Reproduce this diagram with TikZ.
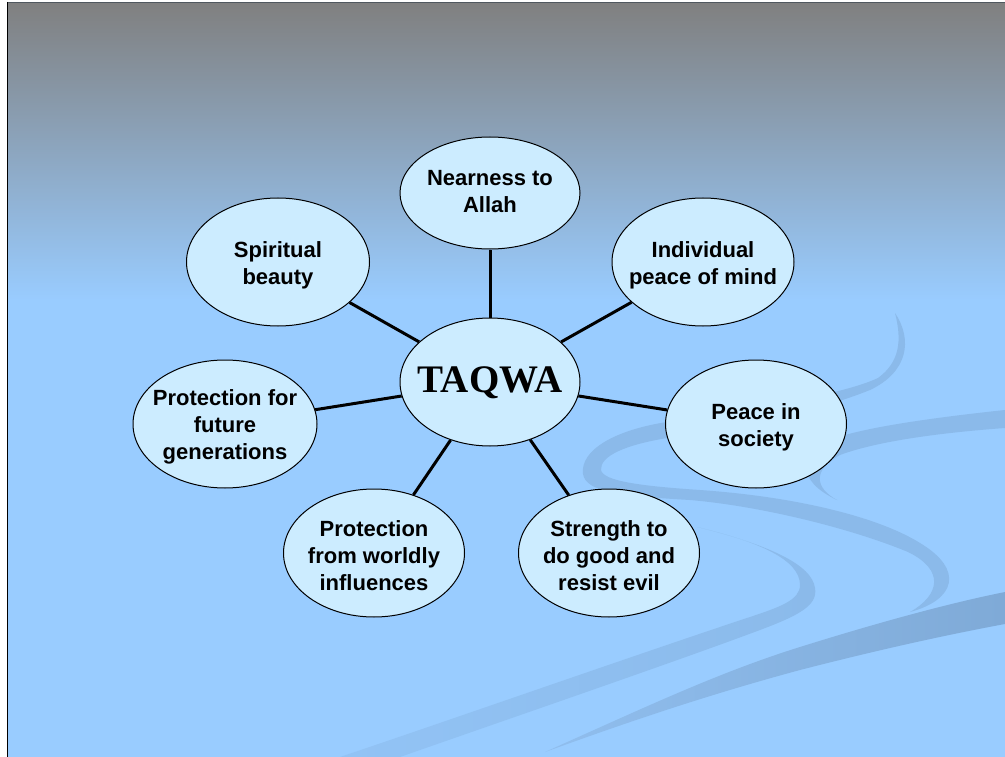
\documentclass[tikz,border=0pt]{standalone}
\usepackage{fontspec}
\setmainfont{Liberation Sans}
\newfontfamily\serifb{Liberation Serif}
\usetikzlibrary{shapes.geometric}
\pgfdeclarelayer{bg}
\pgfdeclarelayer{lines}
\pgfsetlayers{bg,lines,main}
\definecolor{slidegray}{HTML}{808080}
\definecolor{slideblue}{HTML}{99CCFF}
\definecolor{bubble}{HTML}{CCECFF}
\definecolor{swirlA}{HTML}{7FAAD7}
\definecolor{swirlAl}{HTML}{90BEEE}
\definecolor{swirlB}{HTML}{8BBAEA}
\definecolor{swirlC}{HTML}{92C3F5}
\definecolor{topline}{HTML}{50585F}
\begin{document}
\begin{tikzpicture}[x=1pt,y=1pt,
  bub/.style={ellipse, draw=black, line width=1pt, fill=bubble, inner sep=0pt,
    minimum width=181pt, minimum height=128pt},
  lbl/.style={font=\fontsize{22}{27}\selectfont\bfseries, align=center, text=black, inner sep=0pt},
  title/.style={font=\serifb\fontsize{39}{46}\selectfont\bfseries, text=black, inner sep=0pt},
  link/.style={line width=3pt, draw=black}]
\useasboundingbox (0,0) rectangle (1005,-757);
\begin{pgfonlayer}{bg}
  \fill[white] (0,0) rectangle (1005,-757);
  \shade[top color=slidegray, bottom color=slideblue] (7,-3) rectangle (1005,-300);
  \fill[slideblue] (7,-299.5) rectangle (1005,-757);
  % swirl A (darkest, lower right)
  \shade[left color=swirlAl, right color=swirlA]
    (545,-752) .. controls (650,-705) and (720,-672) .. (800,-647)
    .. controls (880,-622) and (950,-603) .. (1005,-592) -- (1005,-624)
    .. controls (940,-636) and (870,-652) .. (800,-670)
    .. controls (700,-697) and (620,-725) .. (545,-752) -- cycle;
  % swirl B (hook near strength)
  \shade[left color=swirlC, right color=swirlB]
    (400,-757) .. controls (520,-715) and (680,-660) .. (760,-630)
    .. controls (800,-615) and (818,-605) .. (815,-588)
    .. controls (812,-565) and (770,-545) .. (697,-527)
    .. controls (760,-542) and (800,-560) .. (800,-585)
    .. controls (800,-600) and (780,-607) .. (750,-617)
    .. controls (650,-650) and (450,-720) .. (340,-757) -- cycle;
  % swirl S
  \fill[swirlB]
    (895,-313) .. controls (913,-340) and (908,-372) .. (870,-390)
    .. controls (800,-418) and (720,-428) .. (667,-438)
    .. controls (625,-445) and (600,-456) .. (601,-470)
    .. controls (603,-481) and (640,-486) .. (700,-490)
    .. controls (800,-497) and (880,-518) .. (920,-543)
    .. controls (965,-570) and (955,-600) .. (910,-612)
    .. controls (940,-595) and (945,-570) .. (908,-552)
    .. controls (850,-528) and (760,-506) .. (690,-500)
    .. controls (620,-496) and (586,-492) .. (583,-474)
    .. controls (580,-450) and (615,-430) .. (667,-422)
    .. controls (740,-410) and (840,-396) .. (878,-378)
    .. controls (900,-362) and (902,-340) .. (895,-313) -- cycle;
  % swirl right band curling under "Peace in society"
  \fill[swirlB]
    (1005,-410) .. controls (930,-418) and (860,-428) .. (830,-440)
    .. controls (800,-455) and (795,-480) .. (837,-500)
    .. controls (815,-488) and (812,-470) .. (840,-455)
    .. controls (880,-440) and (950,-432) .. (1005,-428) -- cycle;
  % slide edges
  \draw[topline, line width=1pt] (7,-2.5) -- (1005,-2.5);
  \draw[black, line width=1.5pt] (7.5,-2) -- (7.5,-757);
\end{pgfonlayer}

\node[bub, minimum width=180pt] (taqwa) at (490,-382) {};
\node[bub, minimum width=180pt, minimum height=112pt] (near) at (490,-193) {};
\node[bub, minimum width=182pt] (indiv) at (703,-262) {};
\node[bub] (peace) at (756,-424) {};
\node[bub] (strength) at (609,-553) {};
\node[bub] (worldly) at (374,-553) {};
\node[bub, minimum width=184pt] (future) at (225,-424) {};
\node[bub, minimum width=183pt] (beauty) at (278,-262) {};

\node[title] (taqwa-t) at ([yshift=-1pt]taqwa.center) {TAQWA};
\node[lbl] (near-t) at ([yshift=1pt]near.center) {Nearness to\\Allah};
\node[lbl] (indiv-t) at ([yshift=-3pt]indiv.center) {Individual\\peace of mind};
\node[lbl] (peace-t) at ([yshift=-3pt]peace.center) {Peace in\\society};
\node[lbl] (strength-t) at ([yshift=-3pt]strength.center) {Strength to\\do good and\\resist evil};
\node[lbl] (worldly-t) at ([yshift=-3pt]worldly.center) {Protection\\from worldly\\influences};
\node[lbl] (future-t) at ([yshift=-3pt]future.center) {Protection for\\future\\generations};
\node[lbl] (beauty-t) at ([yshift=-3pt]beauty.center) {Spiritual\\beauty};

\begin{pgfonlayer}{lines}
  \draw[link] (taqwa) -- (near);
  \draw[link] (taqwa) -- (indiv);
  \draw[link] (taqwa) -- (peace);
  \draw[link] (taqwa) -- (strength);
  \draw[link] (taqwa) -- (worldly);
  \draw[link] (taqwa) -- (future);
  \draw[link] (taqwa) -- (beauty);
\end{pgfonlayer}
\end{tikzpicture}
\end{document}
